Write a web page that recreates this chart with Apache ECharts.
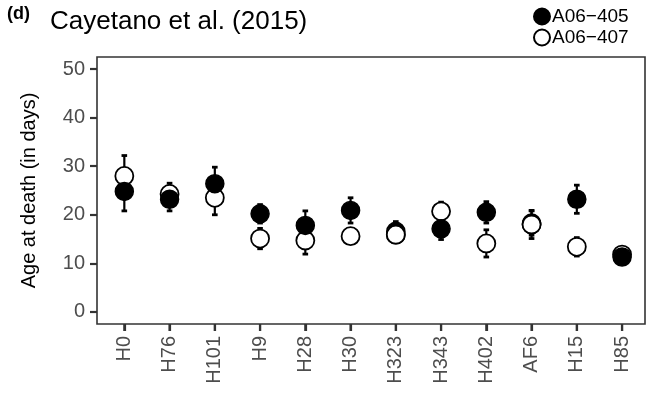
<!DOCTYPE html>
<html>
<head>
<meta charset="utf-8">
<script src="https://cdn.jsdelivr.net/npm/echarts@6/dist/echarts.min.js"></script>
<style>html,body{margin:0;padding:0;background:#fff}#c{width:653px;height:396px}</style>
</head>
<body>
<div id="c"></div>
<script>
const categories = ['H0','H76','H101','H9','H28','H30','H323','H343','H402','AF6','H15','H85'];
const mean405 = [24.8,23.2,26.4,20.2,17.8,20.9,16.6,17.1,20.5,18.3,23.2,11.3];
const se405   = [4.0,2.4,3.4,1.9,3.0,2.6,2.0,2.2,2.2,2.5,2.9,0.8];
const mean407 = [28.0,24.3,23.5,15.1,14.7,15.6,15.9,20.7,14.1,18.0,13.4,11.8];
const se407   = [4.2,2.2,3.5,2.1,2.8,1.0,1.0,1.9,2.8,2.9,1.9,0.8];
const openOnTop = ['H323','AF6'];
const yTicks = [0,10,20,30,40,50];
const seriesNames = ['A06\u2212405','A06\u2212407'];

const FONT = "'Liberation Sans', Arial, sans-serif";
const chart = echarts.init(document.getElementById('c'), null, {renderer:'canvas'});

const errData = [];
categories.forEach((c,i)=>{
  errData.push([i, mean405[i]-se405[i], mean405[i]+se405[i]]);
  errData.push([i, mean407[i]-se407[i], mean407[i]+se407[i]]);
});
const pts405 = categories.map((c,i)=>[i, mean405[i]]);
const pts407 = categories.map((c,i)=>[i, mean407[i]]);
const pts407top = categories.map((c,i)=>openOnTop.includes(c) ? [i, mean407[i]] : null).filter(d=>d);

const filledStyle = {color:'#000', borderColor:'#000', borderWidth:1.5, opacity:1};
const openStyle = {color:'#fff', borderColor:'#000', borderWidth:1.8, opacity:1};
const Y_MIN = -2.5, Y_MAX = 52.5;

chart.setOption({
  animation:false,
  textStyle:{fontFamily:FONT},
  grid:[
    {left:101.7, right:8.3, top:57, bottom:72, show:false},
    {left:97, right:8, top:57, bottom:72, show:true, borderColor:'#333', borderWidth:1.6, backgroundColor:'transparent'}
  ],
  legend:{
    data:seriesNames, orient:'vertical', left:528, top:2, itemGap:2,
    itemWidth:16, itemHeight:16, icon:'circle',
    textStyle:{fontSize:19, color:'#000', fontFamily:FONT, padding:[0,0,0,-3]}
  },
  graphic:[
    {type:'text', left:7, top:5, style:{text:'(d)', font:"bold 18px "+FONT, fill:'#000'}},
    {type:'text', left:50, top:9, style:{text:'Cayetano et al. (2015)', font:"26px "+FONT, fill:'#000'}}
  ],
  xAxis:[
    {
      type:'category', gridIndex:0, data:categories, boundaryGap:true,
      axisLine:{show:false, onZero:false}, splitLine:{show:false},
      axisTick:{show:true, alignWithLabel:true, interval:0, length:7, lineStyle:{color:'#333', width:2.2}},
      axisLabel:{interval:0, rotate:90, fontSize:20, color:'#4D4D4D', fontFamily:FONT, margin:12}
    },
    {type:'value', gridIndex:1, show:false}
  ],
  yAxis:[
    {type:'value', gridIndex:0, min:Y_MIN, max:Y_MAX, show:false},
    {
      type:'value', gridIndex:1, min:Y_MIN, max:Y_MAX,
      name:'Age at death (in days)', nameLocation:'middle', nameGap:58,
      nameTextStyle:{fontSize:20, color:'#000', fontFamily:FONT},
      axisLine:{show:false, onZero:false}, splitLine:{show:false},
      axisTick:{show:true, customValues:yTicks, length:7, lineStyle:{color:'#333', width:2.2}},
      axisLabel:{customValues:yTicks, fontSize:20, color:'#4D4D4D', fontFamily:FONT, margin:12}
    }
  ],
  series:[
    {
      type:'custom', name:'xticks', z:1, silent:true, clip:false, xAxisIndex:0, yAxisIndex:0,
      data:categories.map((c,i)=>[i, Y_MIN]),
      renderItem:(params, api)=>{
        const p = api.coord([api.value(0), api.value(1)]);
        return {type:'line', shape:{x1:p[0], y1:p[1], x2:p[0], y2:p[1]+7}, style:{stroke:'#333', lineWidth:2.2}};
      }
    },
    {
      type:'custom', name:'err', z:1, silent:true, xAxisIndex:0, yAxisIndex:0,
      data:errData,
      renderItem:(params, api)=>{
        const x = api.value(0);
        const lo = api.coord([x, api.value(1)]);
        const hi = api.coord([x, api.value(2)]);
        const hw = 2.8;
        const st = {stroke:'#000', lineWidth:2.2};
        return {type:'group', children:[
          {type:'line', shape:{x1:lo[0], y1:lo[1], x2:hi[0], y2:hi[1]}, style:st},
          {type:'line', shape:{x1:lo[0]-hw, y1:lo[1], x2:lo[0]+hw, y2:lo[1]}, style:{stroke:'#000', lineWidth:2.8}},
          {type:'line', shape:{x1:hi[0]-hw, y1:hi[1], x2:hi[0]+hw, y2:hi[1]}, style:{stroke:'#000', lineWidth:2.8}}
        ]};
      }
    },
    {type:'scatter', name:seriesNames[1], z:2, xAxisIndex:0, yAxisIndex:0, data:pts407, symbol:'circle', symbolSize:18, itemStyle:openStyle},
    {type:'scatter', name:seriesNames[0], z:3, xAxisIndex:0, yAxisIndex:0, data:pts405, symbol:'circle', symbolSize:18, itemStyle:filledStyle},
    {type:'scatter', name:seriesNames[1], z:4, xAxisIndex:0, yAxisIndex:0, data:pts407top, symbol:'circle', symbolSize:18, itemStyle:openStyle}
  ]
});
</script>
</body>
</html>
